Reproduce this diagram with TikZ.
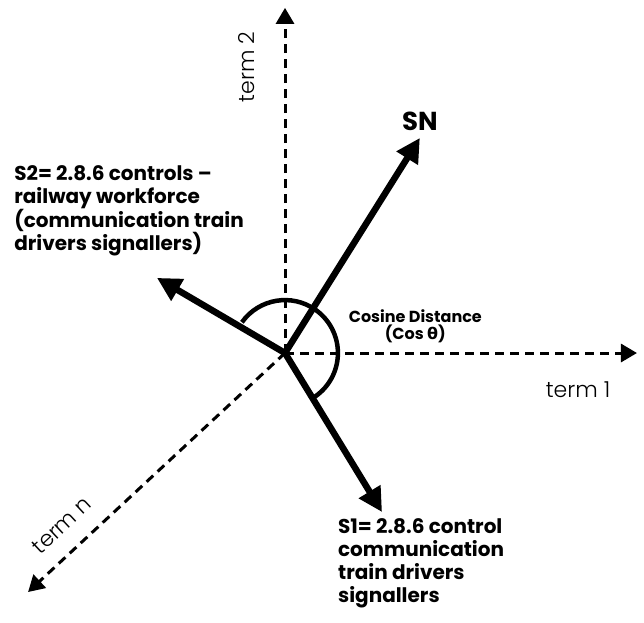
\documentclass[tikz,border=0pt]{standalone}
\usepackage{fontspec}
\setmainfont{Poppins}
\newfontfamily\thinfont{Poppins Light}
\newfontfamily\symfont{DejaVu Sans}
\usepackage{tikz}
\usetikzlibrary{arrows.meta, positioning, calc}

\begin{document}
\begin{tikzpicture}[
  axis/.style={line width=3pt, dash pattern=on 9pt off 6pt, -{Triangle[length=16pt, width=18pt]}},
  vec/.style={line width=6.5pt, -{Triangle[length=24pt, width=24pt]}},
  arcline/.style={line width=4.5pt},
  termlbl/.style={font=\thinfont\fontsize{22}{24}\selectfont, inner sep=0pt},
  veclbl/.style={font=\bfseries\fontsize{20}{23}\selectfont, align=left, inner sep=0pt},
]
\useasboundingbox (-10.017, -9.454) rectangle (12.617, 12.407);

\coordinate (O) at (0, 0);

% Axes
\coordinate (t2) at (0, 12.13);
\coordinate (t1) at (12.37, 0);
\coordinate (tn) at (-9.03, -8.40);
\draw[axis] (O) -- (t2);
\draw[axis] (O) -- (t1);
\draw[axis] (O) -- (tn);

\node[termlbl, rotate=90] (t2lbl) at (-1.34, 10.05) {term 2};
\node[termlbl] (t1lbl) at (10.30, -1.30) {term 1};
\node[termlbl, rotate=43] (tnlbl) at (-7.85, -6.05) {term n};

% Angle arc
\draw[arcline] ([shift={(144.5:1.86)}]O) arc[start angle=144.5, end angle=-57.5, radius=1.86];

% Vectors
\coordinate (sn) at (4.74, 7.56);
\coordinate (s2) at (-4.50, 2.64);
\coordinate (s1) at (3.41, -5.59);
\draw[vec] (O) -- (sn);
\draw[vec] (O) -- (s2);
\draw[vec] (O) -- (s1);

% Labels
\node[font=\bfseries\fontsize{26}{28}\selectfont, inner sep=0pt] (snlbl) at (4.74, 8.15) {SN};
\node[veclbl, anchor=north west] (s2lbl) at (-9.52, 6.60)
{S2= 2.8.6 controls --\\railway workforce\\(communication train\\drivers signallers)};
\node[veclbl, anchor=north west] (s1lbl) at (1.86, -5.80)
{S1= 2.8.6 control\\communication\\train drivers\\signallers};
\node[font=\bfseries\fontsize{16}{17}\selectfont, align=center, inner sep=0pt] (coslbl) at (4.58, 0.95)
{Cosine Distance\\(Cos {\symfont\bfseries θ})};
\end{tikzpicture}
\end{document}
